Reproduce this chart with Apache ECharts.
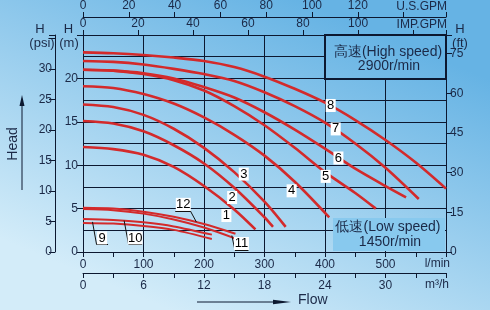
<!DOCTYPE html>
<html>
<head>
<meta charset="utf-8">
<script src="https://cdn.jsdelivr.net/npm/echarts@6/dist/echarts.min.js"></script>
<style>html,body{margin:0;padding:0;background:#fff;}#c{width:490px;height:310px;}</style>
</head>
<body>
<div id="c"></div>
<script>
// ---------- data (flow in l/min, head in m) ----------
const curve1Flow = [0, 50, 100, 150, 200, 250, 285];
const curve1Head = [12.1, 11.85, 11.2, 9.8, 7.6, 4.9, 2.6];
const curve2Flow = [0, 50, 100, 150, 200, 250, 300, 314];
const curve2Head = [15.1, 14.8, 13.9, 12.3, 10.2, 7.4, 4.0, 2.9];
const curve3Flow = [0, 50, 100, 150, 200, 250, 300, 335];
const curve3Head = [17.0, 16.7, 15.8, 14.2, 12.0, 9.2, 5.8, 2.9];
const curve4Flow = [0, 50, 100, 150, 200, 250, 300, 350, 407];
const curve4Head = [19.1, 18.9, 18.2, 17.1, 15.5, 13.5, 11.1, 8.1, 4.0];
const curve5Flow = [0, 50, 100, 150, 200, 250, 300, 350, 400, 450, 484];
const curve5Head = [21.0, 20.9, 20.5, 19.8, 18.6, 16.8, 14.6, 12.0, 9.2, 6.8, 5.0];
const curve6Flow = [0, 50, 100, 150, 200, 250, 300, 350, 400, 450, 500, 534];
const curve6Head = [21.0, 20.9, 20.6, 20.0, 19.0, 17.8, 16.1, 14.1, 11.9, 9.6, 7.6, 6.3];
const curve7Flow = [0, 50, 100, 150, 200, 250, 300, 350, 400, 450, 500, 555];
const curve7Head = [22.0, 21.9, 21.6, 21.1, 20.5, 19.7, 18.4, 16.8, 14.9, 12.5, 9.7, 6.1];
const curve8Flow = [0, 50, 100, 150, 200, 250, 300, 350, 400, 450, 500, 550, 600];
const curve8Head = [23.0, 22.9, 22.7, 22.4, 22.0, 21.3, 20.2, 18.8, 17.2, 15.2, 12.9, 10.3, 7.3];
// low speed
const curve9Flow = [0, 50, 100, 150, 213];
const curve9Head = [3.35, 3.27, 3.0, 2.55, 1.5];
const curve10Flow = [0, 50, 100, 150, 213];
const curve10Head = [3.8, 3.7, 3.42, 2.95, 2.0];
const curve11Flow = [0, 50, 100, 150, 200, 250];
const curve11Head = [4.95, 4.82, 4.42, 3.75, 2.82, 1.6];
const curve12Flow = [0, 50, 100, 150, 200, 252];
const curve12Head = [5.1, 5.0, 4.65, 4.05, 3.22, 2.1];

const curveNames = ['1','2','3','4','5','6','7','8','9','10','11','12'];
const curveFlows = [curve1Flow, curve2Flow, curve3Flow, curve4Flow, curve5Flow, curve6Flow, curve7Flow, curve8Flow, curve9Flow, curve10Flow, curve11Flow, curve12Flow];
const curveHeads = [curve1Head, curve2Head, curve3Head, curve4Head, curve5Head, curve6Head, curve7Head, curve8Head, curve9Head, curve10Head, curve11Head, curve12Head];

// axis ranges / tick labels
const flowMaxLmin = 600;
const headMaxM = 25;
const m3hMax = flowMaxLmin * 0.06;          // 36
const impMax = flowMaxLmin / 4.54609;
const usMax = flowMaxLmin / 3.78541;
const psiMax = headMaxM / 0.70307;
const ftMax = headMaxM / 0.3048;

// ---------- annotation anchors (data coordinates) ----------
const labelAt = {
  '1': [237.0, 4.2], '2': [246.5, 6.28], '3': [265.7, 8.98], '4': [344.8, 7.05],
  '5': [401.1, 8.71], '6': [422.2, 10.83], '7': [417.7, 14.18], '8': [409.4, 16.88],
  '9': [31.5, 1.62], '10': [86.2, 1.62], '11': [261.9, 0.98], '12': [165.8, 5.49]
};
const leaders = {
  '9': [[15.7, 3.47], [22.4, 0.87], [41.4, 0.87]],
  '10': [[68, 3.62], [75.1, 0.95], [97.8, 0.95]],
  '11': [[246, 1.9], [251.1, 0.23], [273.5, 0.23]],
  '12': [[152.5, 4.74], [177.4, 4.74], [187.3, 3.47]]
};

const INK = '#0c1830';
const TXT = '#1b2947';
const RED = '#d32a2b';
const FONT = '"Liberation Sans", Arial, sans-serif';
const bgGrad = {type: 'linear', x: 300, y: 0, x2: 170, y2: 310, global: true,
  colorStops: [{offset: 0, color: '#66b3e4'}, {offset: 1, color: '#d3ecf9'}]};

const isMult = (v, s) => Math.abs(v / s - Math.round(v / s)) < 1e-6;

const series = curveNames.map((name, i) => {
  const low = i >= 8;
  const data = curveFlows[i].map((q, k) => [q, curveHeads[i][k]]);
  const w = name.length > 1 ? 15 : 10;
  const s = {
    type: 'line', name: 'curve ' + name, data,
    xAxisIndex: 0, yAxisIndex: 0,
    smooth: 0.3, symbol: 'none', z: 3,
    lineStyle: {color: RED, width: low ? 2 : 2.6},
    markPoint: {
      symbol: 'rect', symbolSize: [w, 13], silent: true, z: 6,
      itemStyle: {color: '#ffffff'},
      label: {show: true, position: 'inside', color: '#000', fontSize: 13, fontFamily: FONT, formatter: name},
      data: [{coord: labelAt[name]}]
    }
  };
  if (leaders[name]) {
    const pts = leaders[name];
    const segs = [];
    for (let k = 0; k < pts.length - 1; k++) segs.push([{coord: pts[k]}, {coord: pts[k + 1]}]);
    s.markLine = {symbol: ['none', 'none'], silent: true, z: 5,
      lineStyle: {color: '#111', width: 1, type: 'solid'}, label: {show: false}, data: segs};
  }
  return s;
});

const lbl = {color: TXT, fontSize: 12, fontFamily: FONT};
const line = {show: true, onZero: false, lineStyle: {color: INK, width: 1}};
const tick = (len) => ({show: true, length: len, lineStyle: {color: INK, width: 1}});

const option = {
  animation: false,
  backgroundColor: bgGrad,
  grid: {left: 83, right: 44, top: 35, bottom: 58, containLabel: false, outerBoundsMode: 'none'},
  xAxis: [
    {type: 'value', position: 'bottom', min: 0, max: flowMaxLmin, interval: 100,
     axisLine: line, axisTick: tick(5),
     minorTick: {show: true, splitNumber: 2, length: 5, lineStyle: {color: INK, width: 1}},
     axisLabel: Object.assign({margin: 7, formatter: v => (v < 600 && isMult(v, 100)) ? String(v) : ''}, lbl),
     splitLine: {show: true, lineStyle: {color: INK, width: 1}}},
    {type: 'value', position: 'bottom', offset: 21, min: 0, max: m3hMax, interval: 6,
     axisLine: line, axisTick: tick(5),
     minorTick: {show: true, splitNumber: 2, length: 5, lineStyle: {color: INK, width: 1}},
     axisLabel: Object.assign({margin: 7, formatter: v => (v < 36 && isMult(v, 6)) ? String(v) : ''}, lbl),
     splitLine: {show: false}},
    {type: 'value', position: 'top', min: 0, max: impMax, interval: 20,
     axisLine: line, axisTick: tick(5),
     axisLabel: Object.assign({margin: 5, formatter: v => (v <= 100 && isMult(v, 20)) ? String(v) : ''}, lbl),
     splitLine: {show: false}},
    {type: 'value', position: 'top', offset: 18, min: 0, max: usMax, interval: 20,
     axisLine: line, axisTick: tick(5),
     axisLabel: Object.assign({margin: 5, formatter: v => (v <= 120 && isMult(v, 20)) ? String(v) : ''}, lbl),
     splitLine: {show: false}}
  ],
  yAxis: [
    {type: 'value', position: 'left', min: 0, max: headMaxM, interval: 5,
     axisLine: line, axisTick: tick(6),
     minorTick: {show: false, splitNumber: 2},
     minorSplitLine: {show: true, lineStyle: {color: INK, width: 1}},
     axisLabel: Object.assign({margin: 5, formatter: v => (v < 25 && isMult(v, 5)) ? String(v) : ''}, lbl),
     splitLine: {show: true, lineStyle: {color: INK, width: 1}}},
    {type: 'value', position: 'left', offset: 28, min: 0, max: psiMax, interval: 5,
     axisLine: line, axisTick: tick(6),
     axisLabel: Object.assign({margin: 3, formatter: v => (v <= 30 && isMult(v, 5)) ? String(v) : ''}, lbl),
     splitLine: {show: false}},
    {type: 'value', position: 'right', min: 0, max: ftMax, interval: 15,
     axisLine: line, axisTick: tick(6),
     axisLabel: Object.assign({margin: 4, formatter: v => (v <= 75 && isMult(v, 15)) ? String(v) : ''}, lbl),
     splitLine: {show: false}}
  ],
  graphic: [
    // high speed box
    {type: 'rect', z: 1, shape: {x: 325, y: 35, width: 121, height: 44},
     style: {fill: bgGrad, stroke: INK, lineWidth: 2}},
    {type: 'text', z: 2, x: 388, y: 52.5, style: {text: '高速(High speed)', fill: TXT, font: '14px ' + FONT, align: 'center', verticalAlign: 'middle'}},
    {type: 'text', z: 2, x: 389, y: 66, style: {text: '2900r/min', fill: TXT, font: '14px ' + FONT, align: 'center', verticalAlign: 'middle'}},
    // low speed box
    {type: 'rect', z: 1, shape: {x: 333, y: 218, width: 112, height: 33}, style: {fill: '#88c9ee'}},
    {type: 'text', z: 2, x: 388, y: 227.5, style: {text: '低速(Low speed)', fill: TXT, font: '14px ' + FONT, align: 'center', verticalAlign: 'middle'}},
    {type: 'text', z: 2, x: 390, y: 242, style: {text: '1450r/min', fill: TXT, font: '14px ' + FONT, align: 'center', verticalAlign: 'middle'}},
    // axis titles
    {type: 'text', x: 40, y: 29.5, style: {text: 'H', fill: TXT, font: '13px ' + FONT, align: 'center', verticalAlign: 'middle'}},
    {type: 'text', x: 42, y: 43, style: {text: '(psi)', fill: TXT, font: '13px ' + FONT, align: 'center', verticalAlign: 'middle'}},
    {type: 'text', x: 68.5, y: 29.5, style: {text: 'H', fill: TXT, font: '13px ' + FONT, align: 'center', verticalAlign: 'middle'}},
    {type: 'text', x: 69, y: 43, style: {text: '(m)', fill: TXT, font: '13px ' + FONT, align: 'center', verticalAlign: 'middle'}},
    {type: 'text', x: 460, y: 29.5, style: {text: 'H', fill: TXT, font: '13px ' + FONT, align: 'center', verticalAlign: 'middle'}},
    {type: 'text', x: 460, y: 43, style: {text: '(ft)', fill: TXT, font: '13px ' + FONT, align: 'center', verticalAlign: 'middle'}},
    {type: 'text', x: 447, y: 7, style: {text: 'U.S.GPM', fill: TXT, font: '12px ' + FONT, align: 'right', verticalAlign: 'middle'}},
    {type: 'text', x: 447, y: 25, style: {text: 'IMP.GPM', fill: TXT, font: '12px ' + FONT, align: 'right', verticalAlign: 'middle'}},
    {type: 'text', x: 450, y: 264, style: {text: 'l/min', fill: TXT, font: '12px ' + FONT, align: 'right', verticalAlign: 'middle'}},
    {type: 'text', x: 449, y: 285, style: {text: 'm³/h', fill: TXT, font: '12px ' + FONT, align: 'right', verticalAlign: 'middle'}},
    // Head label and arrow
    {type: 'text', x: 13, y: 144, rotation: Math.PI / 2, style: {text: 'Head', fill: TXT, font: '14px ' + FONT, align: 'center', verticalAlign: 'middle'}},
    {type: 'line', shape: {x1: 22, y1: 190, x2: 22, y2: 104}, style: {stroke: INK, lineWidth: 1}},
    {type: 'polygon', shape: {points: [[19.5, 106], [22, 95], [24.5, 106]]}, style: {fill: INK}},
    // Flow label and arrow
    {type: 'text', x: 298, y: 300, style: {text: 'Flow', fill: TXT, font: '14px ' + FONT, align: 'left', verticalAlign: 'middle'}},
    {type: 'line', shape: {x1: 197, y1: 302, x2: 280, y2: 302}, style: {stroke: INK, lineWidth: 1}},
    {type: 'polygon', shape: {points: [[273, 299.8], [291, 302], [273, 304.2]]}, style: {fill: INK}}
  ],
  series
};

const chart = echarts.init(document.getElementById('c'), null, {renderer: 'canvas'});
chart.setOption(option);
</script>
</body>
</html>
